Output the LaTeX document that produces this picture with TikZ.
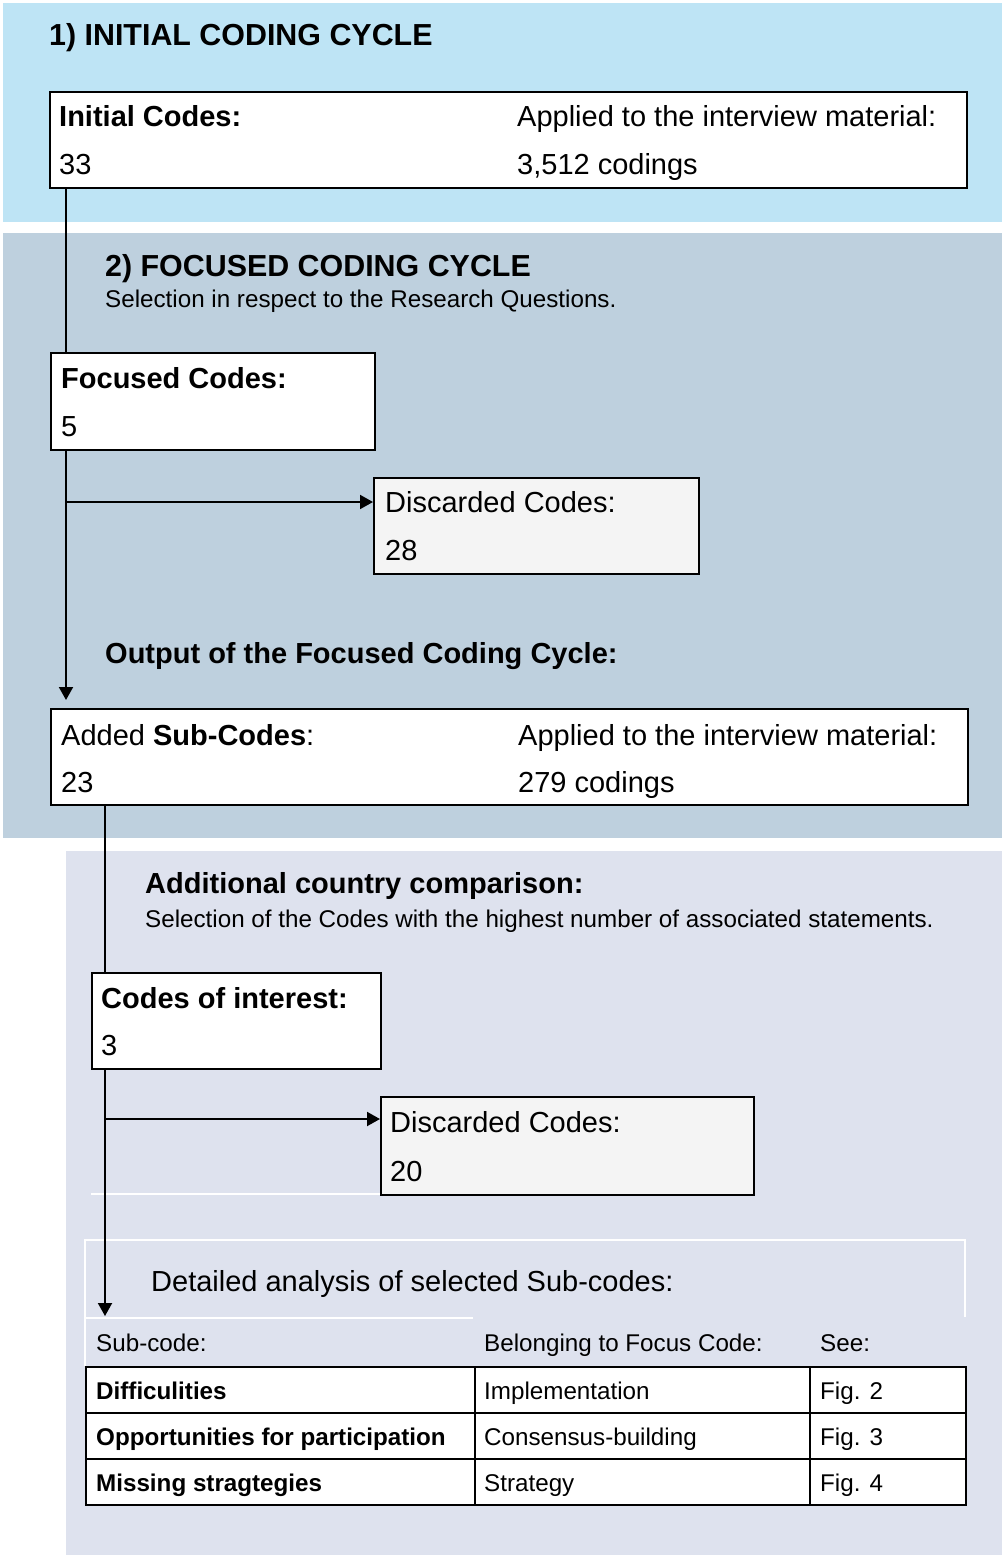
\documentclass[tikz,border=0pt]{standalone}
\usepackage{fontspec}
\setmainfont{Liberation Sans}
\usetikzlibrary{arrows.meta}
\definecolor{bandA}{HTML}{BEE4F5}
\definecolor{bandB}{HTML}{BED0DE}
\definecolor{bandC}{HTML}{DEE2EE}
\definecolor{discfill}{HTML}{F4F4F4}

\begin{document}
\begin{tikzpicture}[x=1pt,y=-1pt,
  box/.style={draw=black, line width=2pt, fill=white, inner sep=0pt, anchor=north west},
  discbox/.style={box, fill=discfill},
  txt/.style={anchor=base west, inner sep=0pt, font=\fontsize{29}{34}\selectfont},
  btxt/.style={txt, font=\fontsize{29}{34}\selectfont\bfseries},
  headtxt/.style={anchor=base west, inner sep=0pt, font=\fontsize{30.4}{36}\selectfont\bfseries},
  note/.style={anchor=base west, inner sep=0pt, font=\fontsize{24.2}{28}\selectfont},
  bnote/.style={note, font=\fontsize{24.2}{28}\selectfont\bfseries},
  link/.style={draw=black, line width=2pt},
  arr/.style={link, -{Triangle[length=13pt,width=14pt]}},
  whiterule/.style={draw=white, line width=2pt}]

\useasboundingbox (0,0) rectangle (1002,1555);

% background bands of the three stages
\fill[bandA] (3,3) rectangle (1002,222);
\fill[bandB] (3,233) rectangle (1002,838);
\fill[bandC] (66,851) rectangle (1002,1555);

% thin white separators in the last stage
\draw[whiterule] (91,1194) -- (380,1194);
\draw[whiterule] (85,1366) -- (85,1240) -- (965,1240) -- (965,1317);
\draw[whiterule] (85,1318) -- (473,1318);

% boxes
\node[box, minimum width=917pt, minimum height=96pt] (init) at (49,91) {};
\node[box, minimum width=324pt, minimum height=97pt] (focused) at (50,352) {};
\node[discbox, minimum width=325pt, minimum height=96pt] (disc1) at (373,477) {};
\node[box, minimum width=917pt, minimum height=96pt] (added) at (50,708) {};
\node[box, minimum width=289pt, minimum height=96pt] (interest) at (91,972) {};
\node[discbox, minimum width=373pt, minimum height=98pt] (disc2) at (380,1096) {};

% table cells
\node[box, minimum width=389pt, minimum height=46pt] (r1a) at (85,1366) {};
\node[box, minimum width=335pt, minimum height=46pt] (r1b) at (474,1366) {};
\node[box, minimum width=156pt, minimum height=46pt] (r1c) at (809,1366) {};
\node[box, minimum width=389pt, minimum height=46pt] (r2a) at (85,1412) {};
\node[box, minimum width=335pt, minimum height=46pt] (r2b) at (474,1412) {};
\node[box, minimum width=156pt, minimum height=46pt] (r2c) at (809,1412) {};
\node[box, minimum width=389pt, minimum height=46pt] (r3a) at (85,1458) {};
\node[box, minimum width=335pt, minimum height=46pt] (r3b) at (474,1458) {};
\node[box, minimum width=156pt, minimum height=46pt] (r3c) at (809,1458) {};

% connectors
\coordinate (spineA) at (66,0);
\coordinate (spineB) at (105,0);
\draw[link] (init.south -| spineA) -- (focused.north -| spineA);
\draw[arr, shorten >=8pt] (focused.south -| spineA) -- (added.north -| spineA);
\coordinate (d1in) at ([yshift=24pt]disc1.west);
\draw[arr] (spineA |- d1in) -- (d1in);
\draw[link] (added.south -| spineB) -- (interest.north -| spineB);
\coordinate (tableIn) at (105,1316);
\draw[arr] (interest.south -| spineB) -- (tableIn);
\coordinate (d2in) at ([yshift=27pt]disc2.west);
\draw[arr] (spineB |- d2in) -- (d2in);

% stage 1
\node[headtxt] (h1) at (49,46) {1) INITIAL CODING CYCLE};
\node[btxt] (l1) at (59,126) {Initial Codes:};
\node[txt] (n1) at (59,174) {33};
\node[txt] (l1b) at (517,126) {Applied to the interview material:};
\node[txt] (n1b) at (517,174) {3,512 codings};

% stage 2
\node[headtxt] (h2) at (105,276) {2) FOCUSED CODING CYCLE};
\node[note] (s2) at (105,307) {Selection in respect to the Research Questions.};
\node[btxt] (l2) at (61,388) {Focused Codes:};
\node[txt] (n2) at (61,436) {5};
\node[txt] (l3) at (385,512) {Discarded Codes:};
\node[txt] (n3) at (385,560) {28};
\node[btxt] (o2) at (105,663) {Output of the Focused Coding Cycle:};
\node[txt] (l4) at (61,745) {Added \textbf{Sub-Codes}:};
\node[txt] (n4) at (61,792) {23};
\node[txt] (l4b) at (518,745) {Applied to the interview material:};
\node[txt] (n4b) at (518,792) {279 codings};

% stage 3
\node[btxt] (h3) at (145,893) {Additional country comparison:};
\node[note] (s3) at (145,927) {Selection of the Codes with the highest number of associated statements.};
\node[btxt] (l5) at (101,1008) {Codes of interest:};
\node[txt] (n5) at (101,1055) {3};
\node[txt] (l6) at (390,1132) {Discarded Codes:};
\node[txt] (n6) at (390,1181) {20};
\node[txt] (d3) at (151,1291) {Detailed analysis of selected Sub-codes:};

% table header and rows
\node[note] (th1) at (96,1351) {Sub-code:};
\node[note] (th2) at (484,1351) {Belonging to Focus Code:};
\node[note] (th3) at (820,1351) {See:};
\node[bnote] at (96,1399) {Difficulities};
\node[note] at (484,1399) {Implementation};
\node[note] at (820,1399) {Fig. 2};
\node[bnote] at (96,1445) {Opportunities for participation};
\node[note] at (484,1445) {Consensus-building};
\node[note] at (820,1445) {Fig. 3};
\node[bnote] at (96,1491) {Missing stragtegies};
\node[note] at (484,1491) {Strategy};
\node[note] at (820,1491) {Fig. 4};
\end{tikzpicture}
\end{document}
